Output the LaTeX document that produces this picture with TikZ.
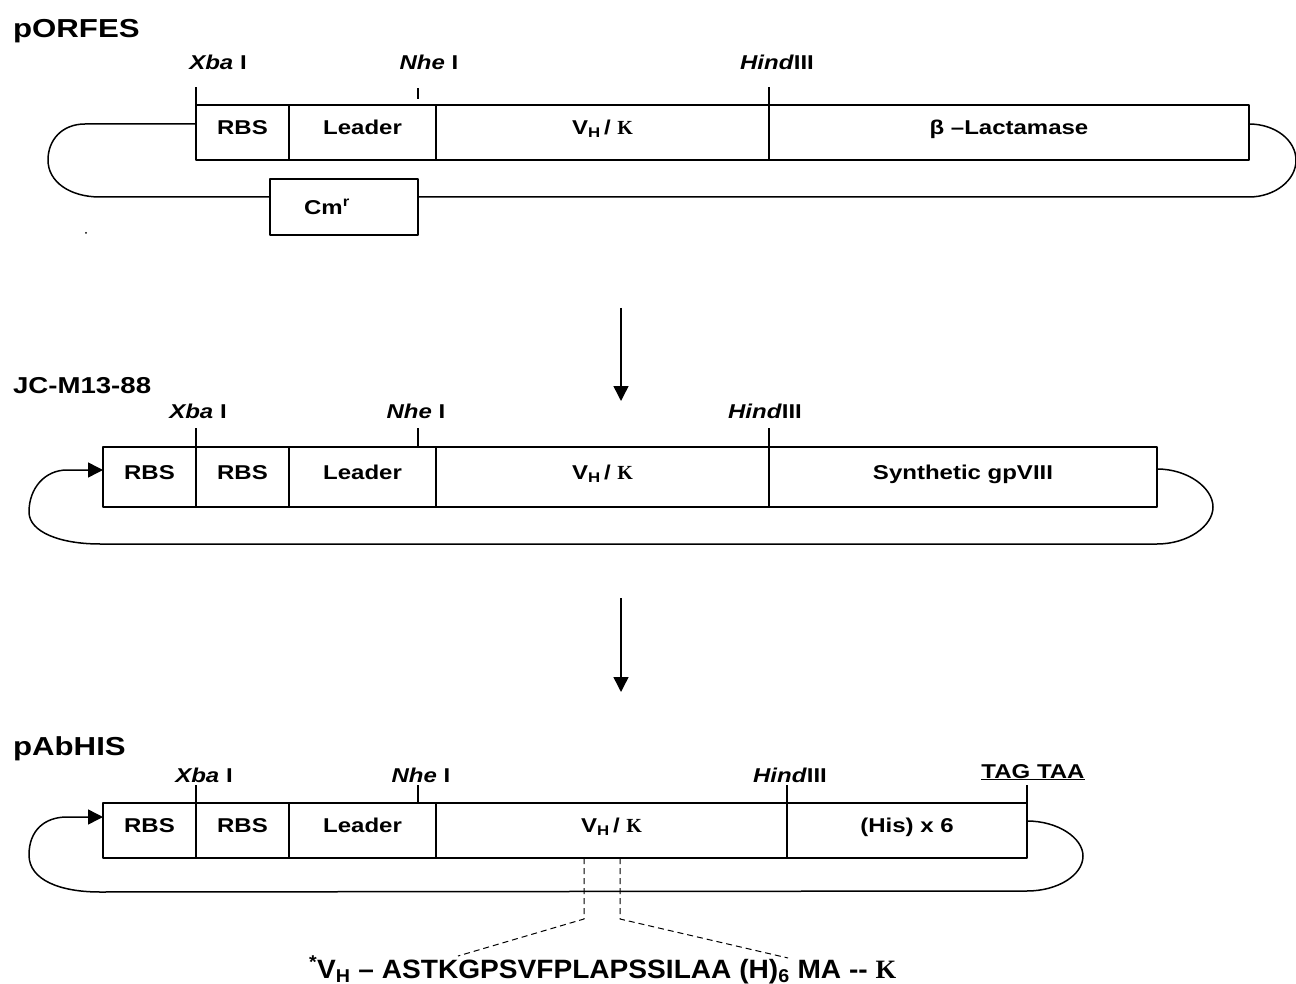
\documentclass[tikz,border=0pt]{standalone}
\usepackage{fontspec}
\setmainfont[FakeStretch=1.2]{Liberation Sans}
\newfontfamily\seqfont[FakeStretch=1.06]{Liberation Sans}
\newfontfamily\kapfont{Liberation Serif}
\usetikzlibrary{arrows.meta}
\begin{document}
\begin{tikzpicture}[x=1pt,y=-1pt, line width=1.5pt, line join=round, >={Triangle[length=15pt,width=15pt]},
 title/.style={anchor=base west, font=\fontsize{26}{31}\selectfont\bfseries},
 site/.style={anchor=base, font=\fontsize{20}{24}\selectfont\bfseries},
 seg/.style={draw, anchor=north west, inner sep=0pt, outer sep=0pt, text height=14pt, text depth=9.7pt, font=\fontsize{20}{24}\selectfont\bfseries},
 cut/.style={line width=1pt, dash pattern=on 6pt off 4pt}]
\def\kap{{\kapfont\bfseries K}}
\def\vhk{V\textsubscript{H}\,/ \kap}
\useasboundingbox (0,0) rectangle (1296,984);

% pORFES
\node[title] (ta) at (9,38) {pORFES};
\foreach \n/\xl/\xr/\t in {rbs/196/289/RBS, lead/289/436/Leader, vk/436/769/\vhk, bla/769/1249/β –Lactamase}
  \node[seg, minimum width=(\xr-\xl)*1pt, minimum height=55pt] (a\n) at (\xl,105) {\t};
\node[seg, minimum width=148pt, minimum height=56pt, text height=, text depth=] (acm) at (270,179) {\hspace*{-34pt}Cm\textsuperscript{r}};
\node[site] (ax) at (218,70) {\textit{Xba} I};
\node[site] (an) at (429,70) {\textit{Nhe} I};
\node[site] (ah) at (777,70) {\textit{Hind}III};
\draw (arbs.north west) -- ++(0,-18);
\draw ([xshift=-18pt,yshift=6pt]alead.north east) -- ++(0,-11);
\draw (avk.north east) -- ++(0,-18);
\draw ([yshift=8.5pt]arbs.west) -- (85,124) .. controls (62,124) and (48,140) .. (48,160)
  .. controls (48,182) and (70,197) .. (100,197) -- ([yshift=10pt]acm.west);
\draw ([yshift=10pt]acm.east) -- (1249,197) .. controls (1275,197) and (1296,180) .. (1296,160.5)
  .. controls (1296,140) and (1275,124) .. ([yshift=8.5pt]abla.east);
\fill (86,233) circle[radius=1pt];

\coordinate (d1) at (621,308); \coordinate (d2) at (621,401);
\draw[->] (d1) -- (d2);

% JC-M13-88
\node[title, font=\fontsize{23}{28}\selectfont\bfseries] (tb) at (9,393) {JC-M13-88};
\foreach \n/\xl/\xr/\t in {rbs/103/196/RBS, rbt/196/289/RBS, lead/289/436/Leader, vk/436/769/\vhk, gp/769/1157/Synthetic gpVIII}
  \node[seg, minimum width=(\xr-\xl)*1pt, minimum height=60pt] (b\n) at (\xl,447) {\t};
\node[site] (bx) at (198,418) {\textit{Xba} I};
\node[site] (bn) at (416,418) {\textit{Nhe} I};
\node[site] (bh) at (765,418) {\textit{Hind}III};
\draw (brbt.north west) -- ++(0,-19);
\draw ([xshift=-18pt]blead.north east) -- ++(0,-19);
\draw (bvk.north east) -- ++(0,-19);
\draw[->] ([yshift=8pt]bgp.east) .. controls (1188,469) and (1213,488) .. (1213,507)
  .. controls (1213,526) and (1188,544) .. (1157,544) -- (100,544)
  .. controls (60,544) and (29,532) .. (29,512) .. controls (29,488) and (45,470) .. (67,470)
  -- ([yshift=7pt]brbs.west);

\coordinate (d3) at (621,598); \coordinate (d4) at (621,692);
\draw[->] (d3) -- (d4);

% pAbHIS
\node[title] (tc) at (9,755) {pAbHIS};
\foreach \n/\xl/\xr/\t in {rbs/103/196/RBS, rbt/196/289/RBS, lead/289/436/Leader, vk/436/787/\vhk, his/787/1027/(His) x 6}
  \node[seg, minimum width=(\xr-\xl)*1pt, minimum height=55pt] (c\n) at (\xl,803) {\t};
\node[site] (cx) at (204,782) {\textit{Xba} I};
\node[site] (cn) at (421,782) {\textit{Nhe} I};
\node[site] (ch) at (790,782) {\textit{Hind}III};
\node[site] (ct) at (1033,778) {\underline{TAG TAA}};
\draw (crbt.north west) -- ++(0,-18);
\draw ([xshift=-18pt]clead.north east) -- ++(0,-18);
\draw (cvk.north east) -- ++(0,-18);
\draw (chis.north east) -- ++(0,-18);
\draw[->] ([yshift=9.5pt]chis.east) .. controls (1058,821) and (1083,838) .. (1083,856)
  .. controls (1083,875) and (1058,891) .. (1027,891) -- (100,892)
  .. controls (60,892) and (29,880) .. (29,855) .. controls (29,830) and (45,817) .. (67,817)
  -- ([yshift=13.5pt]crbs.west);

\coordinate (s1) at (458,956); \coordinate (s2) at (788,958);
\draw[cut] ([xshift=-27.5pt]cvk.south) -- ++(0,61) -- (s1);
\draw[cut] ([xshift=8.5pt]cvk.south) -- ++(0,61) -- (s2);
\node[anchor=base west, font=\seqfont\fontsize{26.5}{31}\selectfont\bfseries] (seq) at (305,978)
  {\textsuperscript{*}V\textsubscript{H} – ASTKGPSVFPLAPSSILAA (H)\textsubscript{6} MA -{}- \kap};
\end{tikzpicture}
\end{document}
